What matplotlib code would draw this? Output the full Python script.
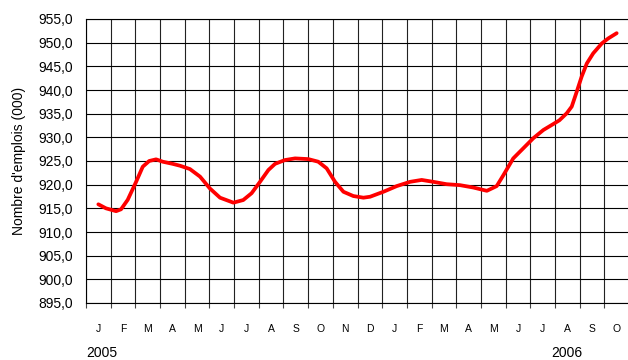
import matplotlib
matplotlib.use("Agg")
import matplotlib.pyplot as plt
from matplotlib.ticker import FixedLocator, FuncFormatter

# Month labels (Jan 2005 .. Oct 2006)
mois = ["J", "F", "M", "A", "M", "J", "J", "A", "S", "O", "N", "D",
        "J", "F", "M", "A", "M", "J", "J", "A", "S", "O"]
annees = ["2005", "2006"]

# Position along the month axis (0 = Jan 2005) and employment (thousands)
position = [0.00, 0.31, 0.72, 0.92, 1.19, 1.53, 1.80, 2.06, 2.34, 2.61,
            3.01, 3.31, 3.71, 4.12, 4.52, 4.93, 5.47, 5.87, 6.21, 6.55,
            6.89, 7.16, 7.56, 7.97, 8.51, 8.91, 9.25, 9.59, 9.93, 10.33,
            10.74, 11.01, 11.55, 12.09, 12.63, 13.10, 13.57, 14.11, 14.65, 15.19,
            15.74, 16.14, 16.41, 16.81, 17.22, 17.62, 18.03, 18.43, 18.68, 18.98,
            19.18, 19.38, 19.58, 19.79, 20.05, 20.40, 20.66, 21.00]
emplois = [915.85, 915.0, 914.4, 914.8, 916.8, 920.6, 923.8, 925.0, 925.35, 924.85,
           924.4, 924.0, 923.3, 921.7, 919.2, 917.25, 916.2, 916.75, 918.2, 920.6,
           923.1, 924.4, 925.2, 925.55, 925.4, 924.85, 923.45, 920.6, 918.5, 917.6,
           917.25, 917.45, 918.5, 919.7, 920.6, 921.0, 920.6, 920.1, 919.9, 919.4,
           918.7, 919.7, 922.0, 925.55, 927.7, 929.8, 931.55, 932.8, 933.6, 935.1,
           936.5, 939.6, 942.8, 945.6, 947.75, 949.85, 950.9, 952.0]

plt.rcParams['font.family'] = ['Liberation Sans', 'DejaVu Sans']

fig = plt.figure(figsize=(6.28, 3.60), dpi=100)
ax = fig.add_axes([86 / 628, 1 - 303 / 360, 543 / 628, 284 / 360])

ax.plot(position, emplois, color="#FF0000", lw=2.7, solid_joinstyle="round",
        solid_capstyle="round", zorder=3)

n = len(mois)
ax.set_xlim(-0.5, n - 0.5)
ax.set_ylim(895, 955)

# y axis
ax.yaxis.set_major_locator(FixedLocator([895 + 5 * k for k in range(13)]))
ax.yaxis.set_major_formatter(FuncFormatter(lambda v, p: f"{v:.1f}".replace(".", ",")))
ax.tick_params(axis="y", length=0, pad=9.5, labelsize=10, colors="black")

# x axis: labels centred on months, ticks between months
ax.set_xticks(range(n))
ax.set_xticklabels(mois)
ax.set_xticks([k - 0.5 for k in range(n + 1)], minor=True)
ax.tick_params(axis="x", which="major", length=0, pad=15, labelsize=7.5)
ax.tick_params(axis="x", which="minor", length=3.5, width=0.8, color="#444444")

ax.grid(False)
for k in range(n + 1):
    ax.axvline(k - 0.5, color="#222222", lw=0.8, zorder=1)
for k in range(13):
    ax.axhline(895 + 5 * k, color="black", lw=0.8, zorder=1)

for s in ax.spines.values():
    s.set_color("black")
    s.set_linewidth(0.8)

ax.set_ylabel("Nombre d'emplois (000)", fontsize=10, labelpad=9)

ax.text(-0.5, -0.175, annees[0], transform=ax.get_xaxis_transform(),
        ha="left", va="center", fontsize=10)
ax.text(19, -0.175, annees[1], transform=ax.get_xaxis_transform(),
        ha="center", va="center", fontsize=10)

fig.savefig("out.png", dpi=100)
